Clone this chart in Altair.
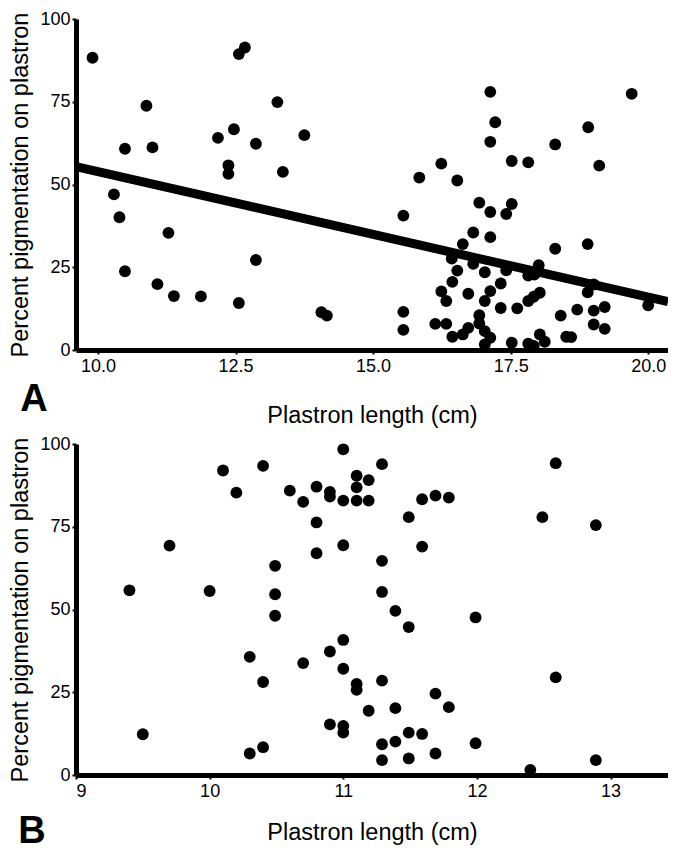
import altair as alt
import pandas as pd

# ---------------- Panel A data ----------------
xa = [9.90, 10.88, 10.49, 10.99, 10.29, 10.39, 11.28, 10.49, 11.08, 11.38,
      11.87, 12.56, 12.87, 12.56, 12.67, 13.26, 12.18, 12.47, 12.87, 13.75,
      12.37, 12.37, 13.36, 14.06, 14.16,
      17.13, 17.22, 17.13, 19.70, 18.91, 18.31, 19.11, 17.52, 17.82, 16.24,
      15.84, 16.53, 15.55, 16.93, 17.13, 17.52, 17.42, 16.82, 17.13, 16.63,
      18.31, 18.90, 16.43, 16.82, 16.53, 17.03, 17.42, 18.01, 17.82, 17.93,
      16.44, 17.32, 16.24, 16.33, 16.73, 17.13, 17.03, 18.03, 17.92, 17.82,
      19.01, 18.90, 20.00, 15.55, 15.55, 17.32, 17.62, 18.41, 18.71, 19.01,
      19.21, 19.01, 19.21, 16.13, 16.33, 16.93, 16.93, 16.73, 16.63, 16.44,
      17.03, 17.13, 17.03, 17.52, 17.82, 18.03, 18.12, 17.92, 18.51, 18.60]
ya = [88.3, 73.8, 60.8, 61.2, 47.0, 40.1, 35.4, 23.8, 19.9, 16.3,
      16.2, 14.2, 27.2, 89.4, 91.4, 74.9, 64.1, 66.7, 62.3, 64.9,
      55.8, 53.2, 53.8, 11.4, 10.4,
      78.0, 68.8, 62.9, 77.4, 67.3, 62.1, 55.7, 57.1, 56.7, 56.3,
      52.1, 51.2, 40.6, 44.5, 41.7, 44.1, 41.1, 35.5, 34.1, 32.0,
      30.6, 32.0, 27.6, 26.0, 24.0, 23.5, 24.1, 25.6, 22.5, 22.8,
      20.6, 20.1, 17.7, 14.8, 17.0, 17.8, 14.8, 17.3, 16.1, 14.8,
      19.8, 17.4, 13.5, 11.5, 6.1, 12.7, 12.6, 10.4, 12.2, 11.9,
      13.0, 7.7, 6.4, 7.9, 7.9, 10.5, 8.0, 6.7, 4.7, 4.0,
      5.7, 3.7, 1.7, 2.2, 1.9, 4.7, 2.5, 1.2, 4.0, 3.9]

# fitted regression line (end points)
line_x = [9.60, 20.36]
line_y = [55.4, 14.6]

# ---------------- Panel B data ----------------
xb = [9.40, 9.50, 9.70, 10.00, 10.10, 10.20, 10.40, 10.30, 10.40, 10.30,
      10.40, 10.49, 10.49, 10.49, 10.60, 10.70, 10.70, 10.80, 10.80, 10.80,
      10.90, 10.90, 10.90, 10.90, 11.00, 11.00, 11.00, 11.00, 11.00, 11.00,
      11.00, 11.10, 11.10, 11.10, 11.10, 11.10,
      11.29, 11.19, 11.19, 11.49, 11.59, 11.69, 11.79, 11.59, 11.29, 11.29,
      11.39, 11.49, 11.99, 12.59, 12.49, 12.89, 12.59, 11.29, 11.69, 11.19,
      11.39, 11.79, 11.49, 11.59, 11.39, 11.29, 11.99,
      11.29, 11.49, 11.69, 12.40, 12.89]
yb = [55.8, 12.3, 69.3, 55.6, 92.0, 85.3, 93.4, 35.7, 28.1, 6.5,
      8.4, 63.2, 54.6, 48.1, 85.9, 82.5, 33.8, 87.1, 76.3, 67.0,
      85.5, 84.1, 37.3, 15.3, 98.4, 82.9, 69.4, 40.8, 32.1, 14.8,
      12.8, 90.4, 86.9, 82.9, 27.5, 25.7,
      93.9, 89.1, 82.9, 77.9, 83.3, 84.4, 83.8, 69.0, 64.7, 55.3,
      49.6, 44.7, 47.6, 94.2, 77.9, 75.5, 29.5, 28.5, 24.6, 19.4,
      20.2, 20.5, 12.8, 12.4, 10.1, 9.3, 9.6,
      4.5, 5.0, 6.5, 1.5, 4.5]

ticks_a = [10.0, 12.5, 15.0, 17.5, 20.0]
ticks_b = [9, 10, 11, 12, 13]
ticks_y = [0, 25, 50, 75, 100]

FONT = "Liberation Sans"
W, H = 592, 331
PT = 140

dfa = pd.DataFrame({"x": xa, "y": ya})
dfl = pd.DataFrame({"x": line_x, "y": line_y})
dfb = pd.DataFrame({"x": xb, "y": yb})


def xaxis(vals, fmt, tp):
    return alt.Axis(values=vals, format=fmt, title="Plastron length (cm)",
                    titlePadding=tp, labelPadding=3)


yaxis = alt.Axis(values=ticks_y, title="Percent pigmentation on plastron",
                 titlePadding=7, labelPadding=2)

xsa = alt.Scale(domain=[9.60, 20.36], nice=False, zero=False)
xsb = alt.Scale(domain=[9, 13.43], nice=False, zero=False)
ys = alt.Scale(domain=[0, 100], nice=False)

pts_a = alt.Chart(dfa).mark_circle(size=PT, color="black", opacity=1).encode(
    x=alt.X("x:Q", scale=xsa, axis=xaxis(ticks_a, ".1f", 28)),
    y=alt.Y("y:Q", scale=ys, axis=yaxis),
)
reg = alt.Chart(dfl).mark_line(color="black", strokeWidth=9, clip=True).encode(
    x=alt.X("x:Q", scale=xsa), y=alt.Y("y:Q", scale=ys)
)
lab_a = alt.Chart(pd.DataFrame({"t": ["A"]})).mark_text(
    font=FONT, fontSize=38, fontWeight="bold", color="black",
    align="center", baseline="alphabetic"
).encode(x=alt.value(-42), y=alt.value(H + 61), text="t:N")

panel_a = alt.layer(pts_a, reg, lab_a).properties(width=W, height=H)

pts_b = alt.Chart(dfb).mark_circle(size=PT, color="black", opacity=1).encode(
    x=alt.X("x:Q", scale=xsb, axis=xaxis(ticks_b, "d", 20)),
    y=alt.Y("y:Q", scale=ys, axis=yaxis),
)
lab_b = alt.Chart(pd.DataFrame({"t": ["B"]})).mark_text(
    font=FONT, fontSize=38, fontWeight="bold", color="black",
    align="center", baseline="alphabetic"
).encode(x=alt.value(-44), y=alt.value(H + 68), text="t:N")

panel_b = alt.layer(pts_b, lab_b).properties(width=W, height=H)

chart = alt.vconcat(panel_a, panel_b, spacing=94, bounds="flush").properties(
    padding={"left": 0, "top": 2, "right": 0, "bottom": 0}
).configure_view(stroke=None).configure_axis(
    grid=False, domainColor="black", domainWidth=5, tickColor="black",
    tickWidth=2, tickSize=4, labelColor="black", labelFont=FONT,
    labelFontSize=18, titleFont=FONT, titleFontSize=23.5,
    titleFontWeight="normal", titleColor="black"
)

chart.save("out.html", embed_options={"renderer": "svg", "actions": False})
